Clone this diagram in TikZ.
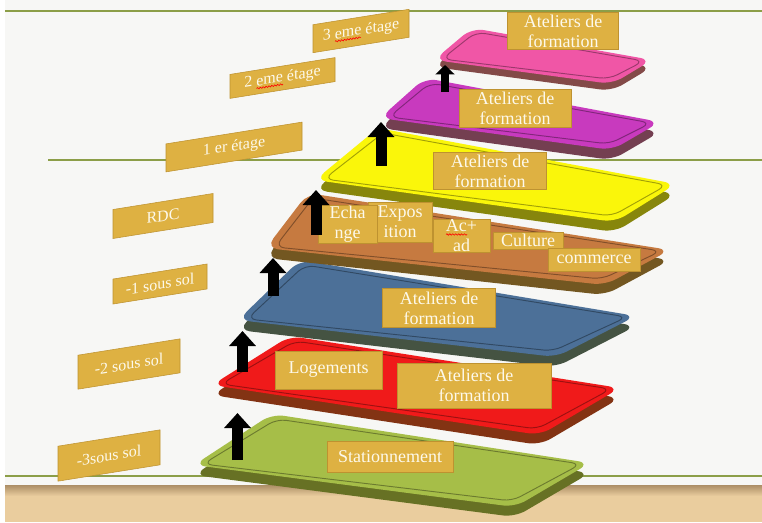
\documentclass[tikz,border=0pt]{standalone}
\usepackage{amsmath,amssymb,graphicx,xcolor,tikz}
\usepackage{fontspec}
\setmainfont{Liberation Serif}
\usetikzlibrary{arrows.meta,decorations.pathmorphing}

\definecolor{sidedark}{RGB}{64,66,14}
\definecolor{slabgreen}{RGB}{166,190,72}
\definecolor{slabred}{RGB}{240,26,26}
\definecolor{slabblue}{RGB}{76,112,152}
\definecolor{slabbrown}{RGB}{198,122,64}
\definecolor{slabyellow}{RGB}{250,246,10}
\definecolor{slabmagenta}{RGB}{200,58,190}
\definecolor{slabpink}{RGB}{240,86,166}

\begin{document}
\begin{tikzpicture}[x=0.75pt,y=0.75pt,yscale=-1,xscale=1,
  tag/.style={draw={rgb, 255:red, 190; green, 146; blue, 48 }, fill={rgb, 255:red, 222; green, 177; blue, 66 }, text={rgb, 255:red, 253; green, 249; blue, 235 }, inner sep=0pt, align=center, font=\fontsize{13.5}{15}\selectfont},
  level/.style={tag, font=\fontsize{12}{14}\selectfont, yslant=0.16},
  slabside/.style={fill=#1!38!sidedark, rounded corners=9pt, shift={(0,10)}},
  slabtop/.style={fill=#1, rounded corners=9pt},
  slabrim/.style={draw=#1!65!black, line width=0.7pt, rounded corners=7pt},
  uparrow/.style={line width=8.25pt, -{Triangle[width=19.5pt,length=11.25pt]}},
  smallarrow/.style={line width=6pt, -{Triangle[width=14pt,length=7pt]}},
  spell/.style={draw=red, line width=0.45pt, decorate, decoration={snake, amplitude=0.55pt, segment length=2.2pt}},
  rule/.style={draw={rgb, 255:red, 140; green, 158; blue, 72 }, line width=1.1pt}]

\useasboundingbox (0,0) rectangle (762,522);

\fill [color={rgb, 255:red, 247; green, 247; blue, 245 }] (0,0) rectangle (762,522) ;

\fill [white] (0,0) rectangle (5,522) ;

% floor
\fill [color={rgb, 255:red, 234; green, 205; blue, 158 }] (5,485) rectangle (762,522) ;

\shade [top color={rgb, 255:red, 172; green, 142; blue, 102 }, bottom color={rgb, 255:red, 234; green, 205; blue, 158 }] (5,485) rectangle (762,496) ;

\draw [rule] (5,11) -- (762,11) ;

\draw [rule] (48,160) -- (762,160) ;

\draw [rule] (5,476) -- (762,476) ;

% slabs, lowest first
\fill [slabside=slabgreen] (272,414) -- (590,463) -- (515,507) -- (194,465) -- cycle ;

\fill [slabtop=slabgreen] (272,414) -- (590,463) -- (515,507) -- (194,465) -- cycle ;

\draw [slabrim=slabgreen] (277,419) -- (581,464) -- (512,501) -- (203,464) -- cycle ;

\fill [slabside=slabred] (290,336) -- (620,388) -- (540,435) -- (212,385) -- cycle ;

\fill [slabtop=slabred] (290,336) -- (620,388) -- (540,435) -- (212,385) -- cycle ;

\draw [slabrim=slabred] (295,341) -- (611,389) -- (537,429) -- (221,384) -- cycle ;

\fill [slabside=slabblue] (300,260) -- (636,316) -- (556,357) -- (238,320) -- cycle ;

\fill [slabtop=slabblue] (300,260) -- (636,316) -- (556,357) -- (238,320) -- cycle ;

\draw [slabrim=slabblue] (305,265) -- (627,317) -- (553,351) -- (247,319) -- cycle ;

\fill [slabside=slabbrown] (308,193) -- (670,250) -- (605,285) -- (266,248) -- cycle ;

\fill [slabtop=slabbrown] (308,193) -- (670,250) -- (605,285) -- (266,248) -- cycle ;

\draw [slabrim=slabbrown] (313,198) -- (661,251) -- (602,279) -- (275,247) -- cycle ;

\fill [slabside=slabyellow] (378,128) -- (676,184) -- (615,222) -- (315,180) -- cycle ;

\fill [slabtop=slabyellow] (378,128) -- (676,184) -- (615,222) -- (315,180) -- cycle ;

\draw [slabrim=slabyellow] (383,133) -- (667,185) -- (612,216) -- (324,179) -- cycle ;

\fill [slabside=slabmagenta] (425,78) -- (660,122) -- (612,150) -- (380,118) -- cycle ;

\fill [slabtop=slabmagenta] (425,78) -- (660,122) -- (612,150) -- (380,118) -- cycle ;

\draw [slabrim=slabmagenta] (430,83) -- (651,123) -- (609,144) -- (389,117) -- cycle ;

\fill [slabside=slabpink, shift={(0,-3)}] (472,28) -- (652,60) -- (612,84) -- (434,60) -- cycle ;

\fill [slabtop=slabpink] (472,28) -- (652,60) -- (612,84) -- (434,60) -- cycle ;

\draw [slabrim=slabpink] (476,32) -- (644,61) -- (609,79) -- (442,59) -- cycle ;

% floor names on the left
\draw (361,31) node [level, minimum width=72pt, minimum height=21pt] (lvlTrois) {3 eme étage};

\draw (282.5,78) node [level, minimum width=78.75pt, minimum height=18pt] (lvlDeux) {2 eme étage};

\draw (234,147) node [level, minimum width=102pt, minimum height=21pt] (lvlUn) {1 er étage};

\draw (163,216) node [level, minimum width=75pt, minimum height=21.75pt] (lvlRdc) {RDC};

\draw (160,284) node [level, minimum width=70.5pt, minimum height=18.75pt] (lvlSsUn) {-1 sous sol};

\draw (129,364) node [level, minimum width=76.5pt, minimum height=25.5pt] (lvlSsDeux) {-2 sous sol};

\draw (109,455.5) node [level, minimum width=76.5pt, minimum height=26.25pt] (lvlSsTrois) {-3sous sol};

% uses on each slab
\draw (563,31) node [tag, minimum width=83.25pt, minimum height=27.75pt] (useTrois) {Ateliers de\\formation};

\draw (515,108) node [tag, minimum width=84pt, minimum height=28.5pt] (useDeux) {Ateliers de\\formation};

\draw (490,171) node [tag, minimum width=84.75pt, minimum height=27.75pt] (useUn) {Ateliers de\\formation};

\draw (400,222) node [tag, minimum width=48pt, minimum height=30pt] (useExpo) {Expos\\ition};

\draw (347.5,224) node [tag, minimum width=44.25pt, minimum height=28.5pt] (useEchange) {Echa\\nge};

\draw (461.5,235.5) node [tag, minimum width=42.75pt, minimum height=24.75pt] (useAcad) {Ac+\\ad};

\draw (528,240.5) node [tag, minimum width=52.5pt, minimum height=12.75pt] (useCulture) {Culture};

\draw (594,259.5) node [tag, minimum width=69pt, minimum height=17.25pt] (useCommerce) {commerce};

\draw (439,308) node [tag, minimum width=84.75pt, minimum height=29.25pt] (useSsUn) {Ateliers de\\formation};

\draw (328.5,370) node [tag, minimum width=80.25pt, minimum height=28.5pt] (useLogements) {Logements};

\draw (474,385.5) node [tag, minimum width=115.5pt, minimum height=33.75pt] (useSsDeux) {Ateliers de\\formation};

\draw (390,456.5) node [tag, minimum width=94.5pt, minimum height=23.25pt] (useParking) {Stationnement};

% spelling marks
\draw [spell] (335,41.5) -- (361,37.3) ;

\draw [spell] (256.5,88.5) -- (283,84.2) ;

\draw [spell] (446,234.5) -- (467,234.5) ;

% arrows between the levels
\coordinate (upA0) at (237.5,460) ;
\coordinate (upA1) at (237.5,413) ;
\coordinate (upB0) at (242.5,372) ;
\coordinate (upB1) at (242.5,331) ;
\coordinate (upC0) at (273,296) ;
\coordinate (upC1) at (273,258) ;
\coordinate (upD0) at (316,235) ;
\coordinate (upD1) at (316,190) ;
\coordinate (upE0) at (381,166) ;
\coordinate (upE1) at (381,122) ;
\coordinate (upF0) at (445,92) ;
\coordinate (upF1) at (445,65) ;

\draw [uparrow] (upA0) -- (upA1) ;

\draw [uparrow] (upB0) -- (upB1) ;

\draw [uparrow] (upC0) -- (upC1) ;

\draw [uparrow] (upD0) -- (upD1) ;

\draw [uparrow] (upE0) -- (upE1) ;

\draw [smallarrow] (upF0) -- (upF1) ;

\end{tikzpicture}
\end{document}
